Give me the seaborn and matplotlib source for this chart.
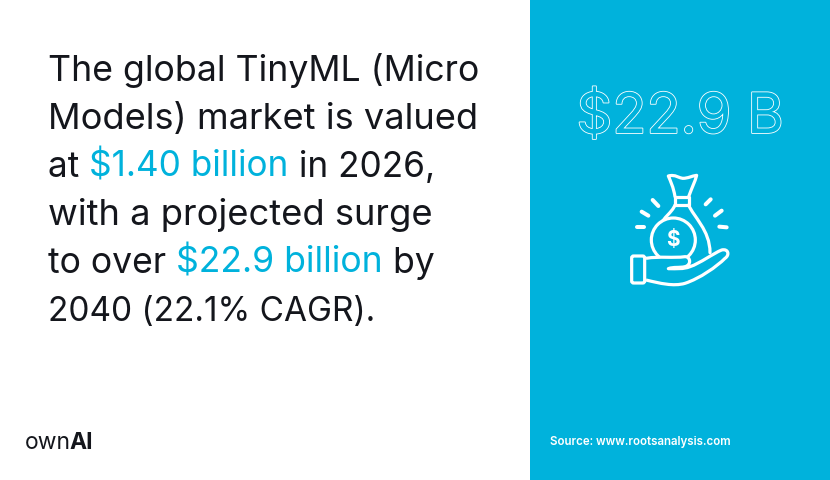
import seaborn as sns
import matplotlib.pyplot as plt
import matplotlib.patheffects as pe
from matplotlib.patches import Rectangle, Circle, FancyBboxPatch, PathPatch
from matplotlib.path import Path

# text runs per line, (text, highlighted)
headline = [
    [("The global TinyML (Micro", False)],
    [("Models) market is valued", False)],
    [("at ", False), ("$1.40 billion", True), (" in 2026,", False)],
    [("with a projected surge", False)],
    [("to over ", False), ("$22.9 billion", True), (" by", False)],
    [("2040 (22.1% CAGR).", False)],
]
big_number = "$22.9 B"
source = "Source: www.rootsanalysis.com"
logo_light = "own"
logo_bold = "AI"

BLUE = "#00b2dc"
INK = "#14161c"
# the reference face is wider in letters and narrower in digits, so each line is fitted
line_sizes = [25.7, 26.1, 25.3, 26.2, 25.6, 24.0]

sns.set_theme(style="white")
plt.rcParams["font.family"] = ["Inter", "DejaVu Sans"]

fig = plt.figure(figsize=(8.3, 4.8), dpi=100)
ax = fig.add_axes([0, 0, 1, 1])
ax.set_xlim(0, 830)
ax.set_ylim(480, 0)
ax.axis("off")

ax.add_patch(Rectangle((530, 0), 300, 480, color=BLUE, lw=0))

renderer = fig.canvas.get_renderer()


def put_runs(x, y, runs, size):
    # draw the pieces one after the other, measuring each
    for txt, hot in runs:
        ax.text(x, y, txt, fontsize=size, color=BLUE if hot else INK,
                va="baseline", ha="left")
        # trailing/leading spaces: measure with a guard character
        w_a = ax.text(0, 0, "|" + txt + "|", fontsize=size, alpha=0)
        w_b = ax.text(0, 0, "||", fontsize=size, alpha=0)
        x += w_a.get_window_extent(renderer).width - w_b.get_window_extent(renderer).width
        w_a.remove()
        w_b.remove()


for i, runs in enumerate(headline):
    put_runs(48, 81 + i * 48, runs, line_sizes[i])

# logo
t = ax.text(25, 449, logo_light, fontsize=16.5, color=INK, va="baseline")
x_end = t.get_window_extent(renderer).x1
ax.text(x_end - 1.5, 449, logo_bold, fontsize=16.5, color=INK, va="baseline", fontweight="bold")

ax.text(550, 445, source, fontsize=8.3, color="white", va="baseline", fontweight="semibold")

# outlined figure
ax.text(680, 133, big_number, fontsize=40.3, color=BLUE, ha="center", va="baseline",
        path_effects=[pe.withStroke(linewidth=1.2, foreground="white")])


# icon
def z(pts):
    return [(560 + a / 3, 70 + b / 3) for a, b in pts]


def curve(pts):
    # first point moves, others go as cubic triples
    codes = [Path.MOVETO] + [Path.CURVE4] * (len(pts) - 1)
    ax.add_patch(PathPatch(Path(z(pts), codes), fill=False, ec="white", lw=LW,
                           capstyle="round", joinstyle="round"))


LW = 2.3
rays = [
    [(278, 390), (295, 408)], [(245, 425), (265, 437)], [(230, 472), (252, 472)],
    [(437, 403), (452, 388)], [(465, 437), (485, 422)], [(478, 470), (500, 472)],
]
for r in rays:
    xs, ys = zip(*z(r))
    ax.plot(xs, ys, color="white", lw=LW + 0.6, solid_capstyle="round")

# neck and tie
curve([(345, 380), (340, 350), (332, 335), (325, 318),
       (345, 312), (360, 325), (368, 325),
       (385, 325), (395, 318), (410, 316),
       (405, 335), (395, 355), (386, 380)])
xs, ys = zip(*z([(345, 380), (386, 380), (386, 405), (345, 405), (345, 380)]))
ax.plot(xs, ys, color="white", lw=LW, solid_joinstyle="round")

# bag body
curve([(345, 405), (335, 430), (310, 440), (300, 470)])
curve([(386, 405), (400, 440), (450, 480), (450, 548)])

# coin
cx, cy = z([(340, 510)])[0]
ax.add_patch(Circle((cx, cy), 22, fill=True, fc=BLUE, ec="white", lw=LW, zorder=3))
ax.text(cx, cy + 0.5, "$", fontsize=15, color="white", ha="center", va="center",
        fontweight="bold", zorder=4)

# hand (covers lower part of the coin)
hand = z([(258, 565), (300, 558), (340, 565), (375, 560),
          (392, 560), (395, 585), (375, 590),
          (358, 594), (340, 590), (325, 596),
          (350, 596), (370, 598), (390, 590),
          (420, 580), (460, 550), (485, 540),
          (505, 535), (510, 555), (495, 565),
          (470, 590), (420, 625), (375, 640),
          (340, 650), (300, 640), (258, 630)])
hand_codes = [Path.MOVETO] + [Path.CURVE4] * (len(hand) - 1)
ax.add_patch(PathPatch(Path(hand, hand_codes), fc=BLUE, ec="white", lw=LW, zorder=5,
                       joinstyle="round"))
x0, y0 = z([(215, 558)])[0]
ax.add_patch(FancyBboxPatch((x0, y0), 13, 27, boxstyle="round,pad=0,rounding_size=2",
                            fc=BLUE, ec="white", lw=LW, zorder=6))

fig.savefig("out.png", dpi=100)
